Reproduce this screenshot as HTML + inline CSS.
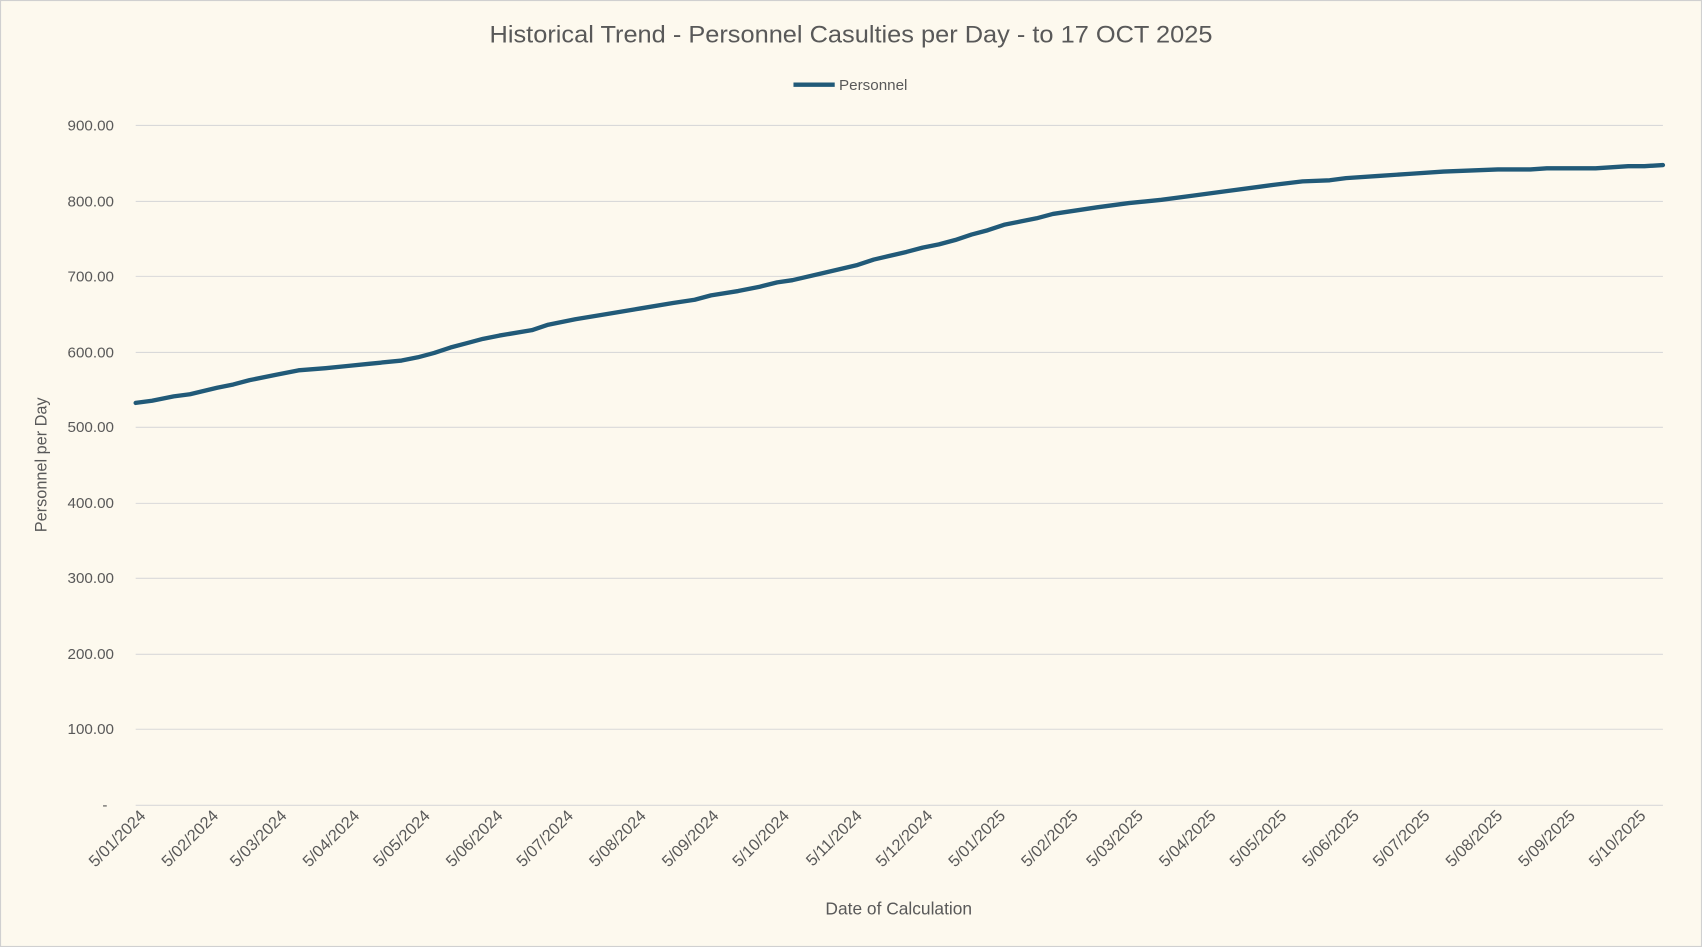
<!DOCTYPE html>
<html><head><meta charset="utf-8"><style>
html,body{margin:0;padding:0;background:#fdf9ee;}
svg{display:block;font-family:"Liberation Sans",sans-serif;}
</style></head><body>
<svg width="1702" height="947" viewBox="0 0 1568 872" preserveAspectRatio="none" xmlns="http://www.w3.org/2000/svg">
<rect x="0.5" y="0.5" width="1567" height="871" fill="#fdf9ee" stroke="#d0d0d0"/>
<text x="784" y="39" text-anchor="middle" font-size="22" fill="#595959" textLength="666" lengthAdjust="spacingAndGlyphs">Historical Trend - Personnel Casulties per Day - to 17 OCT 2025</text>
<line x1="731" y1="78" x2="769" y2="78" stroke="#215a78" stroke-width="4"/>
<text x="773" y="83" font-size="14" fill="#595959">Personnel</text>
<g stroke="#d9d9d9" stroke-width="1">
<line x1="125" x2="1532" y1="115.5" y2="115.5"/>
<line x1="125" x2="1532" y1="185.5" y2="185.5"/>
<line x1="125" x2="1532" y1="254.5" y2="254.5"/>
<line x1="125" x2="1532" y1="324.5" y2="324.5"/>
<line x1="125" x2="1532" y1="393.5" y2="393.5"/>
<line x1="125" x2="1532" y1="463.5" y2="463.5"/>
<line x1="125" x2="1532" y1="532.5" y2="532.5"/>
<line x1="125" x2="1532" y1="602.5" y2="602.5"/>
<line x1="125" x2="1532" y1="671.5" y2="671.5"/>
<line x1="125" x2="1532" y1="741.5" y2="741.5"/>
</g>
<g font-size="14" fill="#595959" text-anchor="end">
<text x="105" y="120">900.00</text>
<text x="105" y="190">800.00</text>
<text x="105" y="259">700.00</text>
<text x="105" y="329">600.00</text>
<text x="105" y="398">500.00</text>
<text x="105" y="468">400.00</text>
<text x="105" y="537">300.00</text>
<text x="105" y="607">200.00</text>
<text x="105" y="676">100.00</text>
<text x="99" y="746">-</text>
</g>
<text transform="translate(43,428) rotate(-90)" text-anchor="middle" font-size="15" fill="#595959">Personnel per Day</text>
<text x="828" y="842" text-anchor="middle" font-size="16" fill="#595959">Date of Calculation</text>
<g font-size="15" fill="#595959" text-anchor="end">
<text transform="translate(135,752) rotate(-45)">5/01/2024</text>
<text transform="translate(202,752) rotate(-45)">5/02/2024</text>
<text transform="translate(265,752) rotate(-45)">5/03/2024</text>
<text transform="translate(332,752) rotate(-45)">5/04/2024</text>
<text transform="translate(397,752) rotate(-45)">5/05/2024</text>
<text transform="translate(464,752) rotate(-45)">5/06/2024</text>
<text transform="translate(529,752) rotate(-45)">5/07/2024</text>
<text transform="translate(596,752) rotate(-45)">5/08/2024</text>
<text transform="translate(663,752) rotate(-45)">5/09/2024</text>
<text transform="translate(728,752) rotate(-45)">5/10/2024</text>
<text transform="translate(795,752) rotate(-45)">5/11/2024</text>
<text transform="translate(860,752) rotate(-45)">5/12/2024</text>
<text transform="translate(927,752) rotate(-45)">5/01/2025</text>
<text transform="translate(994,752) rotate(-45)">5/02/2025</text>
<text transform="translate(1054,752) rotate(-45)">5/03/2025</text>
<text transform="translate(1121,752) rotate(-45)">5/04/2025</text>
<text transform="translate(1186,752) rotate(-45)">5/05/2025</text>
<text transform="translate(1253,752) rotate(-45)">5/06/2025</text>
<text transform="translate(1318,752) rotate(-45)">5/07/2025</text>
<text transform="translate(1385,752) rotate(-45)">5/08/2025</text>
<text transform="translate(1452,752) rotate(-45)">5/09/2025</text>
<text transform="translate(1517,752) rotate(-45)">5/10/2025</text>
</g>
<polyline fill="none" stroke="#215a78" stroke-width="4" stroke-linejoin="round" stroke-linecap="round"
points="125,371 140,369 160,365 175,363 200,357 215,354 230,350 255,345 275,341 300,339 320,337 340,335 370,332 385,329 400,325 415,320 430,316 445,312 460,309 490,304 505,299 530,294 560,289 590,284 620,279 640,276 655,272 680,268 700,264 716,260 730,258 760,251 790,244 805,239 835,232 850,228 865,225 880,221 895,216 910,212 925,207 940,204 955,201 970,197 990,194 1010,191 1040,187 1070,184 1100,180 1130,176 1160,172 1175,170 1200,167 1225,166 1240,164 1270,162 1300,160 1330,158 1380,156 1410,156 1425,155 1445,155 1470,155 1500,153 1515,153 1532,152"/>
</svg>
</body></html>
